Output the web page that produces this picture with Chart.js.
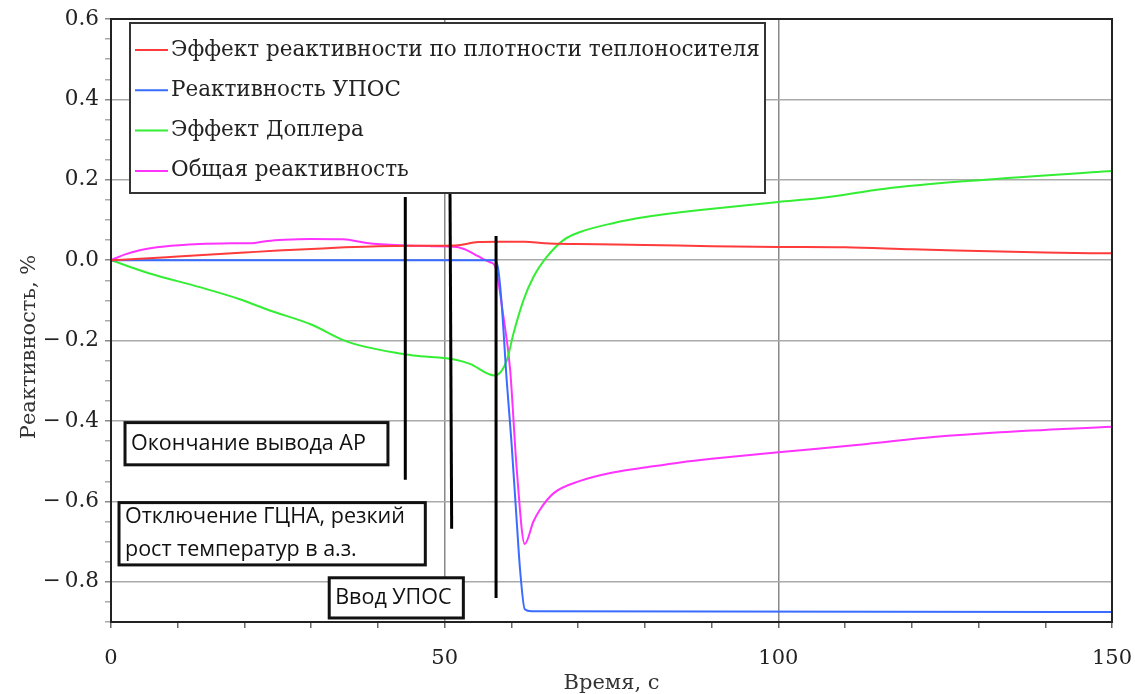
<!DOCTYPE html>
<html>
<head>
<meta charset="utf-8">
<script src="https://cdn.jsdelivr.net/npm/chart.js@4.4.0/dist/chart.umd.min.js"></script>
<style>
  body { margin: 0; background: #fff; }
  #wrap { width: 1135px; height: 694px; }
</style>
</head>
<body>
<div id="wrap"><canvas id="chart" width="1135" height="694"></canvas></div>
<script>
// ---- data (time, s / reactivity, %) ----
const seriesNames = [
  'Эффект реактивности по плотности теплоносителя',
  'Реактивность УПОС',
  'Эффект Доплера',
  'Общая реактивность'
];
const seriesColors = ['#ff3b3b', '#3a6cff', '#33ee33', '#ff33ff'];

const densT = [0, 5, 10, 15, 20, 25, 30, 35, 40, 45, 50, 52, 55, 58, 62, 65, 70, 80, 90, 100, 110, 120, 130, 140, 150];
const densV = [0, 0.004, 0.009, 0.014, 0.019, 0.024, 0.028, 0.032, 0.035, 0.036, 0.036, 0.037, 0.045, 0.046, 0.046, 0.042, 0.040, 0.038, 0.035, 0.033, 0.032, 0.027, 0.023, 0.019, 0.017];

const uposT = [0, 57.5, 58, 58.5, 59.3, 60, 60.8, 61.3, 62, 63, 150];
const uposV = [0, 0, -0.02, -0.1, -0.3, -0.45, -0.65, -0.77, -0.868, -0.873, -0.875];

const dopT = [0, 5.8, 13.3, 19.3, 23.8, 30, 35, 38, 43.3, 45.3, 51.8, 53.8, 57.5, 59.3, 60.3, 61.8, 63.3, 65.3, 67.8, 70.3, 75.2, 80.3, 85.3, 88.3, 100, 106, 116, 128.3, 150];
const dopV = [0, -0.033, -0.067, -0.097, -0.125, -0.16, -0.2, -0.215, -0.232, -0.237, -0.248, -0.258, -0.287, -0.25, -0.183, -0.1, -0.042, 0.008, 0.05, 0.07, 0.092, 0.108, 0.119, 0.125, 0.145, 0.154, 0.178, 0.197, 0.222];

const totT = [0, 2, 4.3, 8, 13.3, 18, 21.5, 23.5, 26, 29.8, 34.8, 38.3, 43.3, 48, 51.8, 53.3, 55, 56.8, 57.5, 58.8, 59.8, 60.8, 62, 63.3, 64.3, 66.3, 70.3, 75.2, 80.3, 85.3, 90, 100, 113.3, 123.2, 133.2, 150];
const totV = [0, 0.014, 0.025, 0.034, 0.04, 0.042, 0.043, 0.048, 0.051, 0.053, 0.052, 0.043, 0.037, 0.035, 0.033, 0.025, 0.01, -0.005, -0.013, -0.14, -0.27, -0.52, -0.706, -0.65, -0.62, -0.58, -0.549, -0.528, -0.515, -0.503, -0.494, -0.478, -0.457, -0.44, -0.428, -0.414];

// event markers (black vertical strokes): [t top, v top, t bottom, v bottom]
const markerLines = [
  [44.1, 0.157, 44.1, -0.546],
  [50.8, 0.17, 51.05, -0.668],
  [57.7, 0.06, 57.7, -0.84]
];

// annotation boxes: text lines + box in data units [t0, v0, t1, v1]
const notes = [
  { lines: ['Окончание вывода АР'], box: [2.1, -0.404, 41.5, -0.509] },
  { lines: ['Отключение ГЦНА, резкий', 'рост температур в а.з.'], box: [1.2, -0.603, 47.1, -0.758] },
  { lines: ['Ввод УПОС'], box: [32.7, -0.79, 52.8, -0.89] }
];

const xLabels = [0, 50, 100, 150];
const yMajor = [0.6, 0.4, 0.2, 0, -0.2, -0.4, -0.6, -0.8];

const SERIF = '"DejaVu Serif", serif';
const SANS = '"Open Sans", sans-serif';

function pts(ts, vs) { return ts.map((t, i) => ({ x: t, y: vs[i] })); }

const datasets = [
  { data: pts(densT, densV) },
  { data: pts(uposT, uposV) },
  { data: pts(dopT, dopV) },
  { data: pts(totT, totV) }
].map((d, i) => ({
  ...d,
  label: seriesNames[i],
  borderColor: seriesColors[i],
  borderWidth: 2,
  pointRadius: 0,
  cubicInterpolationMode: 'monotone',
  order: 2
}));

markerLines.forEach(m => {
  datasets.push({
    label: '',
    data: [{ x: m[0], y: m[1] }, { x: m[2], y: m[3] }],
    borderColor: '#000',
    borderWidth: 3,
    pointRadius: 0,
    order: 1
  });
});

const isMajorY = v => Math.abs(Math.round(v * 100)) % 20 === 0;
const fmtY = v => {
  const r = Math.round(v * 10) / 10;
  if (r < 0) return '\u2212\u2009' + Math.abs(r).toFixed(1);
  return r.toFixed(1);
};

// frame, legend, notes, axis titles
const decor = {
  id: 'decor',
  afterDatasetsDraw(chart) {
    const { ctx, chartArea: a, scales } = chart;
    const xs = scales.x, ys = scales.y;
    ctx.save();

    // annotation boxes
    notes.forEach(n => {
      const x0 = xs.getPixelForValue(n.box[0]), y0 = ys.getPixelForValue(n.box[1]);
      const x1 = xs.getPixelForValue(n.box[2]), y1 = ys.getPixelForValue(n.box[3]);
      ctx.fillStyle = '#fff';
      ctx.fillRect(x0, y0, x1 - x0, y1 - y0);
      ctx.strokeStyle = '#111';
      ctx.lineWidth = 3;
      ctx.strokeRect(x0, y0, x1 - x0, y1 - y0);
      ctx.fillStyle = '#111';
      ctx.font = '21.5px ' + SANS;
      ctx.textBaseline = 'middle';
      ctx.textAlign = 'left';
      const h = y1 - y0, lh = 33;
      const start = y0 + h / 2 - (n.lines.length - 1) * lh / 2;
      n.lines.forEach((s, i) => ctx.fillText(s, x0 + 6, start + i * lh));
    });

    // plot frame
    ctx.strokeStyle = '#222';
    ctx.lineWidth = 2;
    ctx.strokeRect(a.left, a.top, a.right - a.left, a.bottom - a.top);

    // legend
    const lx = a.left + 19, ly = a.top + 4, lw = 635, lh = 170;
    ctx.fillStyle = '#fff';
    ctx.fillRect(lx, ly, lw, lh);
    ctx.strokeStyle = '#333';
    ctx.lineWidth = 2;
    ctx.strokeRect(lx, ly, lw, lh);
    ctx.font = '21.5px ' + SERIF;
    ctx.textBaseline = 'middle';
    ctx.textAlign = 'left';
    seriesNames.forEach((name, i) => {
      const y = ly + 27 + i * 40.3;
      ctx.strokeStyle = seriesColors[i];
      ctx.lineWidth = 2;
      ctx.beginPath();
      ctx.moveTo(lx + 5, y);
      ctx.lineTo(lx + 38, y);
      ctx.stroke();
      ctx.fillStyle = '#222';
      ctx.fillText(name, lx + 41, y);
    });

    // axis titles
    ctx.fillStyle = '#333';
    ctx.font = '21px ' + SERIF;
    ctx.textAlign = 'center';
    ctx.textBaseline = 'middle';
    ctx.fillText('Время, с', (a.left + a.right) / 2, 684);
    ctx.translate(30, 347);
    ctx.rotate(-Math.PI / 2);
    ctx.fillText('Реактивность, %', 0, 0);
    ctx.restore();
  }
};

new Chart(document.getElementById('chart'), {
  type: 'line',
  data: { datasets },
  options: {
    responsive: false,
    animation: false,
    layout: { padding: { top: 19, right: 23, left: 0, bottom: 0 } },
    plugins: { legend: { display: false }, tooltip: { enabled: false } },
    scales: {
      x: {
        type: 'linear',
        min: 0,
        max: 150,
        afterFit: s => { s.height = 72; s.paddingLeft = 0; s.paddingRight = 0; },
        afterBuildTicks: s => { s.ticks = []; for (let v = 0; v <= 150; v += 10) s.ticks.push({ value: v }); },
        border: { display: false },
        grid: {
          color: c => (c.tick && (c.tick.value === 50 || c.tick.value === 100)) ? '#888' : 'rgba(0,0,0,0)',
          lineWidth: 1.5,
          tickColor: '#666',
          tickLength: 6
        },
        ticks: {
          autoSkip: false,
          maxRotation: 0,
          padding: 18,
          color: '#222',
          font: { family: SERIF, size: 21 },
          callback: v => xLabels.includes(v) ? String(v) : ''
        }
      },
      y: {
        type: 'linear',
        min: -0.9,
        max: 0.6,
        afterFit: s => { s.width = 111; s.paddingTop = 0; s.paddingBottom = 0; },
        afterBuildTicks: s => { s.ticks = []; for (let k = -18; k <= 12; k++) s.ticks.push({ value: k * 0.05 }); },
        border: { display: false },
        grid: {
          color: c => (c.tick && isMajorY(c.tick.value)) ? '#aaa' : 'rgba(0,0,0,0)',
          lineWidth: 1.5,
          tickColor: c => (c.tick && isMajorY(c.tick.value)) ? '#888' : '#aaa',
          tickLength: 6
        },
        ticks: {
          autoSkip: false,
          padding: 6,
          color: '#222',
          font: { family: SERIF, size: 21.5 },
          callback: v => (isMajorY(v) && yMajor.some(m => Math.abs(m - v) < 1e-6)) ? fmtY(v) : ''
        }
      }
    }
  },
  plugins: [decor]
});
</script>
</body>
</html>
